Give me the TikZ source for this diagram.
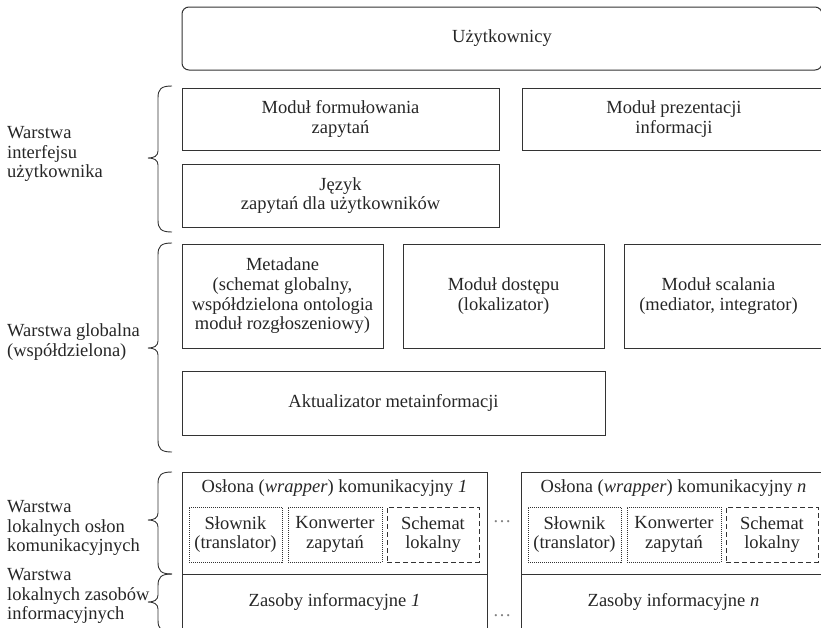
\documentclass[tikz,border=0pt]{standalone}
\usepackage{fontspec}
\setmainfont{Liberation Serif}
\newfontfamily\diagserif{Liberation Serif}
\begin{document}
\begin{tikzpicture}[x=1pt,y=-1pt,
  lc/.style={draw=black!80, line width=1pt},
  box/.style={lc, rectangle, inner sep=0pt, align=center, text=black!85,
    font=\diagserif\fontsize{18.5}{19.7}\selectfont},
  dotbox/.style={box, dash pattern=on 1pt off 1pt},
  dashbox/.style={box, dash pattern=on 5pt off 3pt},
  lbl/.style={anchor=west, align=left, inner sep=0pt, text=black!85,
    font=\diagserif\fontsize{18.5}{19.7}\selectfont},
  txt/.style={inner sep=0pt, text=black!85, font=\diagserif\fontsize{18.5}{19.7}\selectfont},
  brc/.style={draw=black!80, line width=0.9pt}]
\useasboundingbox (0,0) rectangle (821,627);
\clip (0,0) rectangle (821,627);

% top
\node[box, rounded corners=7pt, minimum width=640, minimum height=63] (uzyt) at (502,38.5) {Użytkownicy};

% interface layer
\node[box, minimum width=317, minimum height=62] (mform) at (340.5,119) {Moduł formułowania\\zapytań};
\node[box, minimum width=304, minimum height=62] (mprez) at (674,119) {Moduł prezentacji\\informacji};
\node[box, minimum width=317, minimum height=63] (jezyk) at (340.5,195.5) {Język\\zapytań dla użytkowników};

% global layer
\node[box, minimum width=201, minimum height=104] (meta) at (282.5,296) {Metadane\\(schemat globalny,\\współdzielona ontologia\\moduł rozgłoszeniowy)};
\node[box, minimum width=201, minimum height=104] (dostep) at (503.5,296) {Moduł dostępu\\(lokalizator)};
\node[box, minimum width=202, minimum height=104] (scal) at (725,296) {};
\node[txt, align=center] (scaltxt) at (718.5,296) {Moduł scalania\\(mediator, integrator)};
\node[box, minimum width=423, minimum height=64] (aktual) at (393.5,403) {Aktualizator metainformacji};

% wrappers
\node[box, minimum width=305, minimum height=102] (wrap1) at (334.5,523) {};
\node[txt] (wrap1t) at (334.5,488) {Osłona (\textit{wrapper}) komunikacyjny \textit{1}};
\node[dotbox, minimum width=93, minimum height=55] (slow1) at (235.5,534.5) {Słownik\\(translator)};
\node[dotbox, minimum width=94, minimum height=55] (konw1) at (335,534.5) {Konwerter\\zapytań};
\node[dashbox, minimum width=92, minimum height=55] (sch1) at (433,534.5) {Schemat\\lokalny};
\node[box, minimum width=305, minimum height=55] (zas1) at (334.5,601.5) {Zasoby informacyjne \textit{1}};

\node[box, minimum width=305, minimum height=102] (wrapn) at (673.5,523) {};
\node[txt] (wrapnt) at (673.5,488) {Osłona (\textit{wrapper}) komunikacyjny \textit{n}};
\node[dotbox, minimum width=93, minimum height=55] (slown) at (574.5,534.5) {Słownik\\(translator)};
\node[dotbox, minimum width=94, minimum height=55] (konwn) at (674,534.5) {Konwerter\\zapytań};
\node[dashbox, minimum width=92, minimum height=55] (schn) at (772,534.5) {Schemat\\lokalny};
\node[box, minimum width=305, minimum height=55] (zasn) at (673.5,601.5) {Zasoby informacyjne \textit{n}};

\node[txt, text=black!50] (dots1) at (502,522) {…};
\node[txt, text=black!50] (dots2) at (502,616) {…};

% braces
\newcommand{\layerbrace}[3]{%
  \draw[brc] (172,#1) .. controls (161,#1) and (158,{#1+3}) .. (158,{#1+12})
    -- (158,{#2-7}) .. controls (158,{#2-2}) and (154,#2) .. (148,#2)
    .. controls (154,#2) and (158,{#2+2}) .. (158,{#2+7})
    -- (158,{#3-12}) .. controls (158,{#3-3}) and (161,#3) .. (172,#3);}
\layerbrace{86}{158}{232}
\layerbrace{243}{348}{452}
\layerbrace{472}{520}{574}
\layerbrace{574}{602}{632}

% labels
\node[lbl] (l1) at (7,154) {Warstwa\\interfejsu\\użytkownika};
\node[lbl] (l2) at (7,342) {Warstwa globalna\\(współdzielona)};
\node[lbl] (l3) at (7,528) {Warstwa\\lokalnych osłon\\komunikacyjnych};
\node[lbl] (l4) at (7,596) {Warstwa\\lokalnych zasobów\\informacyjnych};
\end{tikzpicture}
\end{document}
